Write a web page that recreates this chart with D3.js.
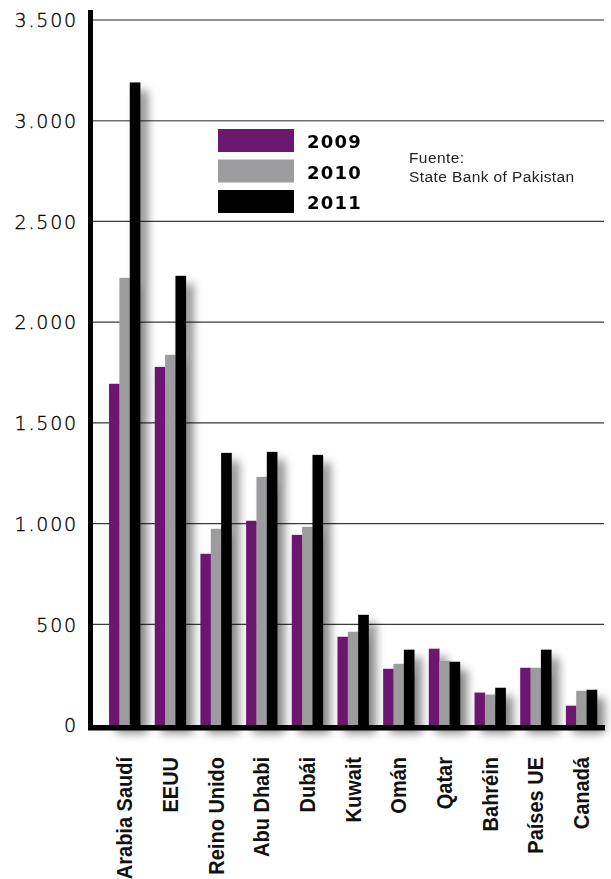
<!DOCTYPE html>
<html>
<head>
    <meta charset="utf-8">
    <title>remesas-pakistan</title>
    <script type="text/javascript" src="https://cdnjs.cloudflare.com/ajax/libs/d3/7.8.5/d3.min.js"></script>
    <style type="text/css">
        body { margin: 0; background: #fff; }
        .ytick text { font-family: "DejaVu Sans", sans-serif; font-weight: 200; font-size: 19px; fill: #000; stroke: #000; stroke-width: 0.35px; letter-spacing: 1.8px; }
        .xtick text { font-family: "Liberation Sans", Arial, sans-serif; font-weight: bold; font-size: 21.5px; fill: #111; }
    </style>
</head>
<body>
<div id="app"></div>

<script type="text/javascript">
    // datos (millones de USD)
    var categories = ['Arabia Saudí', 'EEUU', 'Reino Unido', 'Abu Dhabi', 'Dubái', 'Kuwait', 'Omán', 'Qatar', 'Bahréin', 'Países UE', 'Canadá'];
    var years = ['2009', '2010', '2011'];
    var v2009 = [1694, 1778, 850, 1014, 944, 438, 279, 379, 161, 284, 96];
    var v2010 = [2220, 1838, 974, 1232, 984, 463, 304, 319, 151, 284, 170];
    var v2011 = [3190, 2230, 1351, 1356, 1341, 547, 374, 314, 185, 374, 175];
    var yTicks = [0, 500, 1000, 1500, 2000, 2500, 3000, 3500];
    var colors = ['#6c1870', '#9c9c9e', '#000000'];

    !function () {
        const w = 611, h = 879;
        const series = [v2009, v2010, v2011];
        const svg = d3.select('#app').append('svg').attr('width', w).attr('height', h);

        const fmt = d3.formatLocale({decimal: ',', thousands: '.', grouping: [3], currency: ['', '']}).format(',');

        const y = d3.scaleLinear().domain([0, 3500]).range([725, 20]);
        const x = d3.scaleBand().domain(categories).range([99, 607]).paddingInner(0.32).paddingOuter(0.22);
        const xs = d3.scaleBand().domain(years).range([0, x.bandwidth()]);

        // sombra de las barras
        svg.append('defs').append('filter')
            .attr('id', 'sombra')
            .attr('x', '-20%').attr('y', '-10%').attr('width', '200%').attr('height', '130%')
            .append('feDropShadow')
            .attr('dx', 7).attr('dy', 8).attr('stdDeviation', 5)
            .attr('flood-color', '#000').attr('flood-opacity', 0.48);

        ///líneas de la cuadrícula
        svg.append('g').selectAll('line')
            .data(yTicks.slice(1))
            .enter()
            .append('line')
            .attr('x1', 92).attr('x2', 604)
            .attr('y1', function (d) { return y(d); })
            .attr('y2', function (d) { return y(d); })
            .attr('stroke', function (d) { return d >= 3000 ? '#6e6e6e' : '#3a3a3a'; })
            .attr('stroke-width', function (d) { return d >= 3000 ? 1.6 : 1.2; });

        ///barras
        const bars = svg.append('g').attr('filter', 'url(#sombra)');
        bars.selectAll('g')
            .data(categories)
            .enter()
            .append('g')
            .attr('transform', function (d) { return 'translate(' + x(d) + ',0)'; })
            .selectAll('rect')
            .data(function (d, i) {
                return years.map(function (yr, j) { return {year: yr, value: series[j][i], k: j}; });
            })
            .enter()
            .append('rect')
            .attr('x', function (d) { return xs(d.year); })
            .attr('y', function (d) { return y(d.value); })
            .attr('width', xs.bandwidth() + 0.3)
            .attr('height', function (d) { return y(0) - y(d.value); })
            .attr('fill', function (d) { return colors[d.k]; });

        ///ejes
        svg.append('line')
            .attr('x1', 90.5).attr('x2', 90.5).attr('y1', 10).attr('y2', 730)
            .attr('stroke', '#000').attr('stroke-width', 5);
        svg.append('line')
            .attr('x1', 88).attr('x2', 605).attr('y1', 727.8).attr('y2', 727.8)
            .attr('stroke', '#000').attr('stroke-width', 5.5);

        const yAxis = svg.append('g')
            .attr('class', 'ytick')
            .attr('transform', 'translate(78,0)')
            .call(d3.axisLeft(y).tickValues(yTicks).tickFormat(fmt).tickSize(0).tickPadding(0));
        yAxis.select('.domain').remove();
        yAxis.selectAll('text').attr('dy', '0.36em');

        const xAxis = svg.append('g')
            .attr('class', 'xtick')
            .attr('transform', 'translate(0,725)')
            .call(d3.axisBottom(x).tickSize(0));
        xAxis.select('.domain').remove();
        xAxis.selectAll('text')
            .attr('x', 0).attr('y', 0)
            .attr('dy', '0.36em')
            .attr('transform', 'translate(0,32) rotate(-90) scale(0.93,1)')
            .style('text-anchor', 'end');

        ///leyenda
        const legend = svg.append('g').selectAll('g')
            .data(years)
            .enter()
            .append('g')
            .attr('transform', function (d, i) { return 'translate(218,' + (129 + i * 30.5) + ')'; });
        legend.append('rect')
            .attr('width', 76).attr('height', 23)
            .attr('fill', function (d, i) { return colors[i]; });
        legend.append('text')
            .text(function (d) { return d; })
            .attr('x', 89).attr('y', 19)
            .style('font-family', '"DejaVu Sans", sans-serif')
            .style('font-weight', 'bold')
            .style('font-size', '18px')
            .style('letter-spacing', '1.2px')
            .attr('fill', '#000');

        ///fuente
        const src = svg.append('text')
            .attr('x', 409).attr('y', 163)
            .style('font-family', '"Liberation Sans", Arial, sans-serif')
            .style('font-size', '15.5px')
            .style('letter-spacing', '0.4px')
            .attr('fill', '#222');
        src.append('tspan').attr('x', 409).text('Fuente:');
        src.append('tspan').attr('x', 409).attr('dy', 19).text('State Bank of Pakistan');
    }();
</script>
</body>
</html>
